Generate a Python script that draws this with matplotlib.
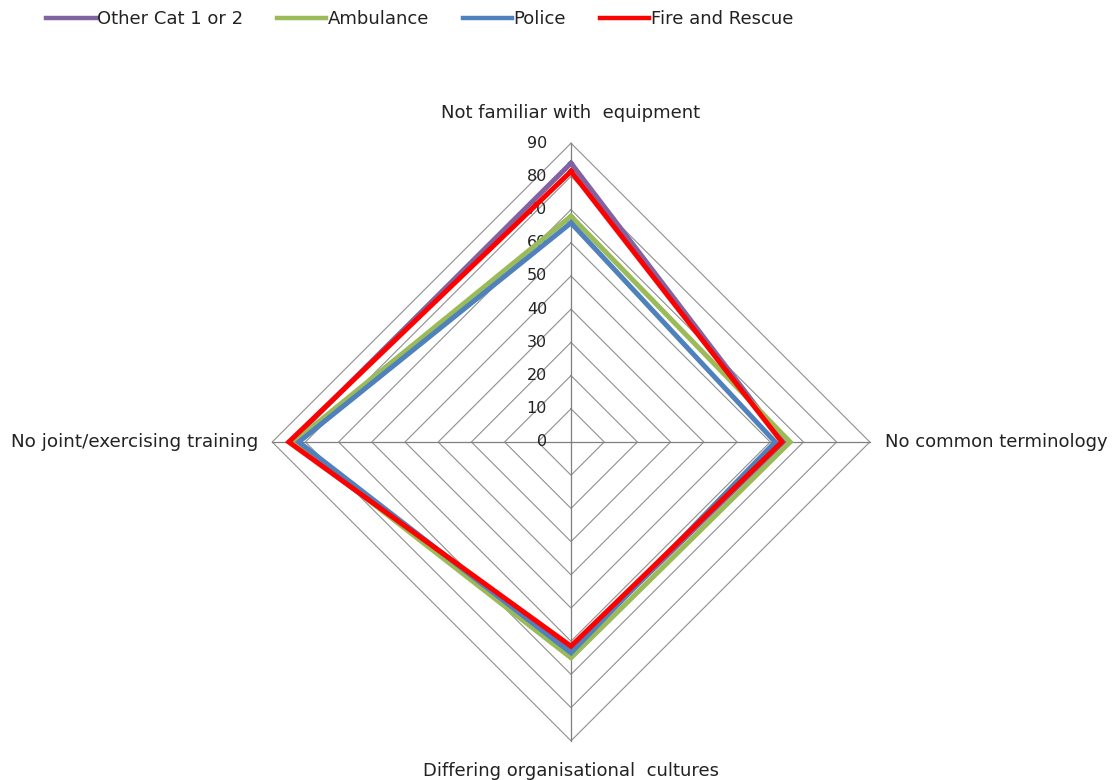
import numpy as np
import matplotlib.pyplot as plt

# categories clockwise from the top
categories = ["Not familiar with  equipment", "No common terminology",
              "Differing organisational  cultures", "No joint/exercising training"]
series_names = ["Other Cat 1 or 2", "Ambulance", "Police", "Fire and Rescue"]
other_cat = [84, 64, 62.5, 84.5]
ambulance = [68, 66, 65, 83.5]
police = [66, 61.5, 63.5, 82]
fire_rescue = [81.5, 63.5, 61.5, 85]
ticks = [0, 10, 20, 30, 40, 50, 60, 70, 80, 90]

colors = ["#8064A2", "#9BBB59", "#4F81BD", "#FF0000"]

n = len(categories)
ang = np.arange(n) * 2 * np.pi / n  # 0 = top, clockwise
sx, sy = np.sin(ang), np.cos(ang)


def xy(vals):
    v = np.asarray(vals, dtype=float)
    x = np.append(v * sx, v[0] * sx[0])
    y = np.append(v * sy, v[0] * sy[0])
    return x, y


fig = plt.figure(figsize=(11.16, 7.8), dpi=100)
ax = fig.add_axes([0, 0, 1, 1])
ppu = 3.32
ax.set_xlim(-571 / ppu, (1116 - 571) / ppu)
ax.set_ylim(-338 / ppu, 442 / ppu)
ax.axis("off")

# grid rings
for t in ticks[1:]:
    gx, gy = xy([t] * n)
    ax.plot(gx, gy, color="#8f8f8f", lw=0.8, zorder=1)
# spokes
for i in range(n):
    ax.plot([0, ticks[-1] * sx[i]], [0, ticks[-1] * sy[i]], color="#7f7f7f", lw=0.9, zorder=1)

# tick labels along the top spoke
for t in ticks:
    ax.text(-7.2, t, str(t), ha="right", va="center", fontsize=11.5, color="#222222", zorder=2)

data = [other_cat, ambulance, police, fire_rescue]
for name, vals, c in zip(series_names, data, colors):
    lx, ly = xy(vals)
    ax.plot(lx, ly, color=c, lw=3.6, label=name, solid_joinstyle="miter", zorder=3)

# category labels
ax.text(0, 99, categories[0], ha="center", va="center", fontsize=13, color="#222222")
ax.text(94.5, 0, categories[1], ha="left", va="center", fontsize=13, color="#222222")
ax.text(0, -99, categories[2], ha="center", va="center", fontsize=13, color="#222222")
ax.text(-94.3, 0, categories[3], ha="right", va="center", fontsize=13.2, color="#222222")

leg = fig.legend(loc="upper left", bbox_to_anchor=(46 / 1116, 1 - 10 / 780), ncol=4, frameon=False,
                 fontsize=13, handlelength=2.75, handletextpad=0.08, columnspacing=1.85,
                 borderpad=0, borderaxespad=0, labelcolor="#222222")
for h in leg.get_lines():
    h.set_linewidth(3.2)

fig.savefig("out.png", dpi=100)
